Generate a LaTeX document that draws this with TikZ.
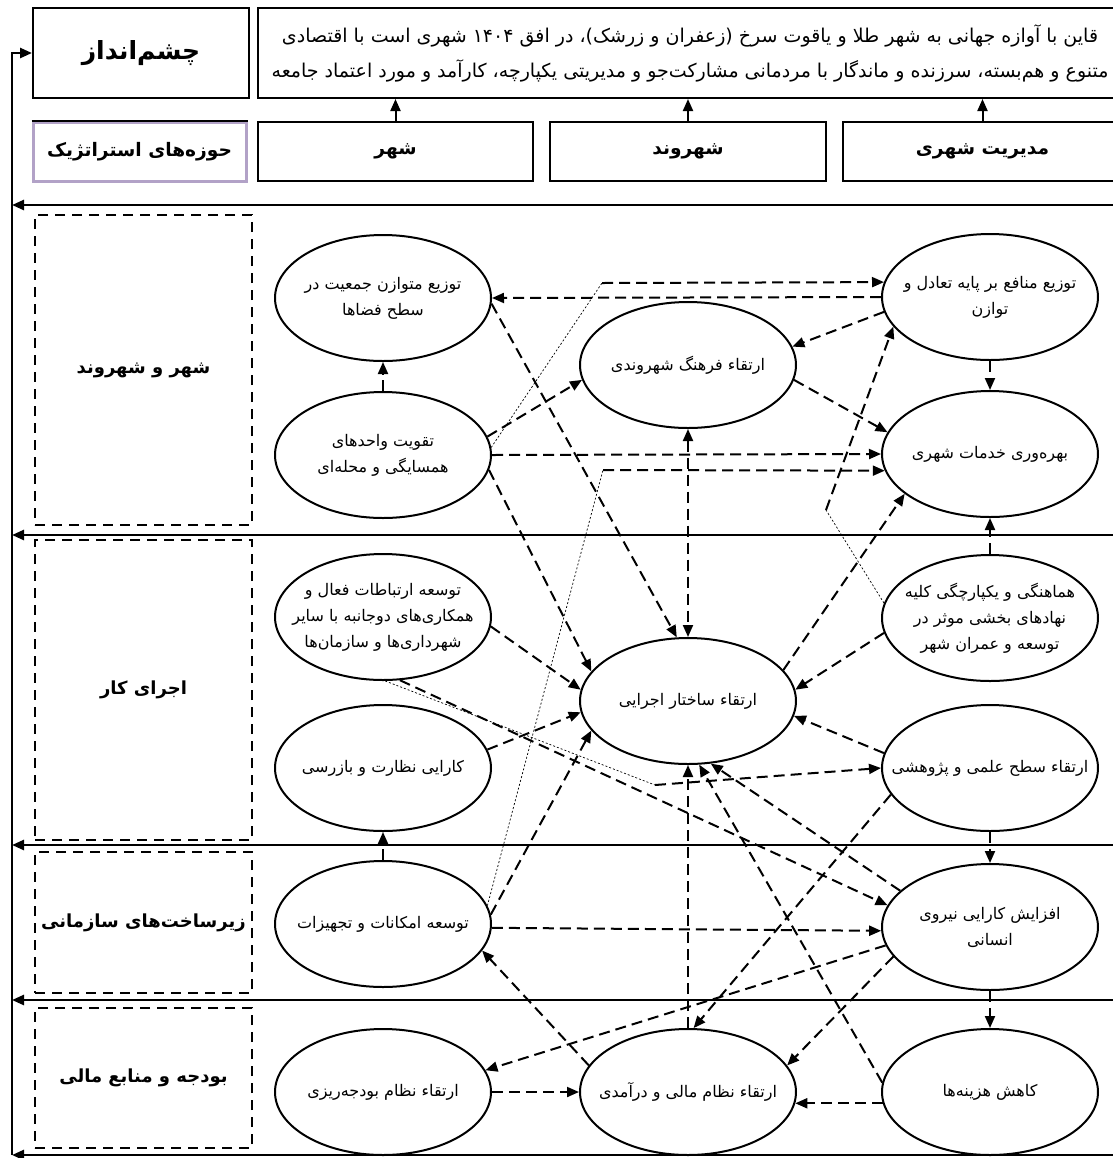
\documentclass[tikz,border=0pt]{standalone}
\usepackage{fontspec}
\usetikzlibrary{shapes.geometric,arrows.meta}
\newfontfamily\arabicfont[Script=Arabic]{DejaVu Sans}
\TeXXeTstate=1
\definecolor{clav}{RGB}{178,162,199}
\tikzset{smap/.style={x=0.5pt,y=-0.5pt}}
\tikzset{goal/.style={ellipse,draw,line width=1pt,minimum width=108pt,minimum height=63pt,inner sep=0pt},
         goaltext/.style={font=\arabicfont\fontsize{8}{13}\selectfont,align=center,inner sep=0pt},
         hbox/.style={draw,line width=1pt,inner sep=0pt,minimum height=29.5pt,font=\arabicfont\bfseries\fontsize{9.3}{12}\selectfont},
         areabox/.style={draw,line width=1pt,dash pattern=on 5pt off 3.5pt,minimum width=108.5pt,inner sep=0pt,
                         font=\arabicfont\bfseries\fontsize{9}{12}\selectfont}}
\tikzset{feed/.style={line width=1.3pt,-{Triangle[length=6pt,width=5pt]}},
         hlink/.style={line width=1pt,-{Triangle[length=6pt,width=5pt]}},
         dlink/.style={line width=1pt,dash pattern=on 5.5pt off 3pt,-{Triangle[length=6pt,width=5pt]}},
         tlink/.style={line width=0.35pt,dash pattern=on 1pt off 1pt}}

\begin{document}
\begin{tikzpicture}[smap]
    \useasboundingbox (0,0) rectangle (1113,1158);
    % vision and headers
    \node[draw,line width=1pt,minimum width=108pt,minimum height=45pt,font=\arabicfont\bfseries\fontsize{12.5}{15}\selectfont] (chashm) at (141,53) {\beginR چشم‌انداز\endR};
    \node[draw,line width=1pt,minimum width=432pt,minimum height=45pt,align=center,
          font=\arabicfont\fontsize{9.5}{17.5}\selectfont] (vision) at (690,53)
          {\beginR قاین با آوازه جهانی به شهر طلا و یاقوت سرخ (زعفران و زرشک)، در افق ۱۴۰۴ شهری است با اقتصادی\endR\\
           \beginR متنوع و هم‌بسته، سرزنده و ماندگار با مردمانی مشارکت‌جو و مدیریتی یکپارچه، کارآمد و مورد اعتماد جامعه\endR};
    \node[hbox,draw=clav,line width=1.5pt,minimum width=106.5pt] (strat) at (139.5,151.5) {\beginR حوزه‌های استراتژیک\endR};
    \draw[line width=1pt] (strat.north west) -- (strat.north east);
    \node[hbox,minimum width=137.5pt] (shahr) at (395.5,151.5) {\beginR شهر\endR};
    \node[hbox,minimum width=138pt] (shahrvand) at (688,151.5) {\beginR شهروند\endR};
    \node[hbox,minimum width=139.5pt] (modir) at (982.5,151.5) {\beginR مدیریت شهری\endR};
    \foreach \h in {shahr,shahrvand,modir} \draw[hlink] (\h.north) -- (\h.north |- vision.south);

    % feedback rails
    \foreach \y [count=\i] in {205,535,845,1000,1155} {
        \coordinate (rr\i) at (1125,\y);
        \coordinate (rl\i) at (12,\y);
        \draw[feed] (rr\i) -- (rl\i);
    }
    \draw[feed] (rl5) |- (chashm.west);

    % strategic areas
    \node[areabox,minimum height=155pt] (area1) at (143.5,370) {\beginR شهر و شهروند\endR};
    \node[areabox,minimum height=150pt] (area2) at (143.5,690) {\beginR اجرای کار\endR};
    \node[areabox,minimum height=70.5pt] (area3) at (143.5,922.5) {\beginR زیرساخت‌های سازمانی\endR};
    \node[areabox,minimum height=70pt] (area4) at (143.5,1078) {\beginR بودجه و منابع مالی\endR};

    % goals
    \node[goal,label={[goaltext]center:{\beginR توزیع متوازن جمعیت در\endR\\\beginR سطح فضاها\endR}}] (E1) at (383,298) {};
    \node[goal,label={[goaltext]center:{\beginR تقویت واحدهای\endR\\\beginR همسایگی و محله‌ای\endR}}] (E2) at (383,455) {};
    \node[goal,label={[goaltext]center:{\beginR ارتقاء فرهنگ شهروندی\endR}}] (E3) at (688,365) {};
    \node[goal,label={[goaltext]center:{\beginR توزیع منافع بر پایه تعادل و\endR\\\beginR توازن\endR}}] (E4) at (990,297) {};
    \node[goal,label={[goaltext]center:{\beginR بهره‌وری خدمات شهری\endR}}] (E5) at (990,454) {};
    \node[goal,label={[goaltext]center:{\beginR توسعه ارتباطات فعال و\endR\\\beginR همکاری‌های دوجانبه با سایر\endR\\\beginR شهرداری‌ها و سازمان‌ها\endR}}] (E6) at (383,617) {};
    \node[goal,label={[goaltext]center:{\beginR کارایی نظارت و بازرسی\endR}}] (E7) at (383,768) {};
    \node[goal,label={[goaltext]center:{\beginR ارتقاء ساختار اجرایی\endR}}] (E8) at (688,701) {};
    \node[goal,label={[goaltext]center:{\beginR هماهنگی و یکپارچگی کلیه\endR\\\beginR نهادهای بخشی موثر در\endR\\\beginR توسعه و عمران شهر\endR}}] (E9) at (990,618) {};
    \node[goal,label={[goaltext]center:{\beginR ارتقاء سطح علمی و پژوهشی\endR}}] (E10) at (990,768) {};
    \node[goal,label={[goaltext]center:{\beginR توسعه امکانات و تجهیزات\endR}}] (E11) at (383,924) {};
    \node[goal,label={[goaltext]center:{\beginR افزایش کارایی نیروی\endR\\\beginR انسانی\endR}}] (E12) at (990,927) {};
    \node[goal,label={[goaltext]center:{\beginR ارتقاء نظام بودجه‌ریزی\endR}}] (E13) at (383,1092) {};
    \node[goal,label={[goaltext]center:{\beginR ارتقاء نظام مالی و درآمدی\endR}}] (E14) at (688,1092) {};
    \node[goal,label={[goaltext]center:{\beginR کاهش هزینه‌ها\endR}}] (E15) at (990,1092) {};

    % bends of the dotted links
    \coordinate (k1) at (602,283);
    \coordinate (k2) at (603,470);
    \coordinate (k3) at (826,510);
    \coordinate (k4) at (655,785);

    % row 1
    \draw[dlink] (E4.west) -- (E1.east);
    \draw[tlink] (E2.4) -- (k1);  \draw[dlink] (k1) -- (E4.172);
    \draw[dlink] (E4.188) -- (E3.10);
    \draw[dlink] (E4.south) -- (E5.north);
    \draw[dlink] (E3.-8) -- (E5.168);
    \draw[dlink] (E2.east) -- (E5.west);
    \draw[tlink] (E11.10) -- (k2); \draw[dlink] (k2) -- (E5.189);
    \draw[dlink] (E8.18) -- (E5.205);
    \draw[tlink] (E9.172) -- (k3); \draw[dlink] (k3) -- (E4.197);
    \draw[dlink] (E2.10) -- (E3.188);
    \draw[dlink] (E2.north) -- (E1.south);
    \draw[dlink] (E1.-3) -- (E8.100);
    \draw[dlink,{Triangle[length=6pt,width=5pt]}-{Triangle[length=6pt,width=5pt]}] (E3.south) -- (E8.north);
    \draw[dlink] (E2.-8) -- (E8.163);
    % row 2
    \draw[dlink] (E6.-5) -- (E8.174);
    \draw[dlink] (E7.10) -- (E8.186);
    \draw[dlink] (E11.5) -- (E8.197);
    \draw[dlink] (E9.188) -- (E8.6);
    \draw[dlink] (E10.172) -- (E8.-8);
    \draw[tlink] (E6.-88) -- (k4); \draw[dlink] (k4) -- (E10.180);
    \draw[dlink] (E6.-75) -- (E12.168);
    \draw[dlink] (E9.north) -- (E5.south);
    \draw[dlink] (E10.south) -- (E12.north);
    \draw[dlink] (E11.north) -- (E7.south);
    % rows 3 and 4
    \draw[dlink] (E10.195) -- (E14.85);
    \draw[dlink] (E12.158) -- (E8.-70);
    \draw[dlink] (E15.175) -- (E8.-80);
    \draw[dlink] (E14.north) -- (E8.south);
    \draw[dlink] (E11.-2) -- (E12.182);
    \draw[dlink] (E12.190) -- (E13.12);
    \draw[dlink] (E12.197) -- (E14.15);
    \draw[dlink] (E14.165) -- (E11.-15);
    \draw[dlink] (E13.east) -- (E14.west);
    \draw[dlink] (E15.186) -- (E14.-6);
    \draw[dlink] (E12.south) -- (E15.north);
\end{tikzpicture}
\end{document}
